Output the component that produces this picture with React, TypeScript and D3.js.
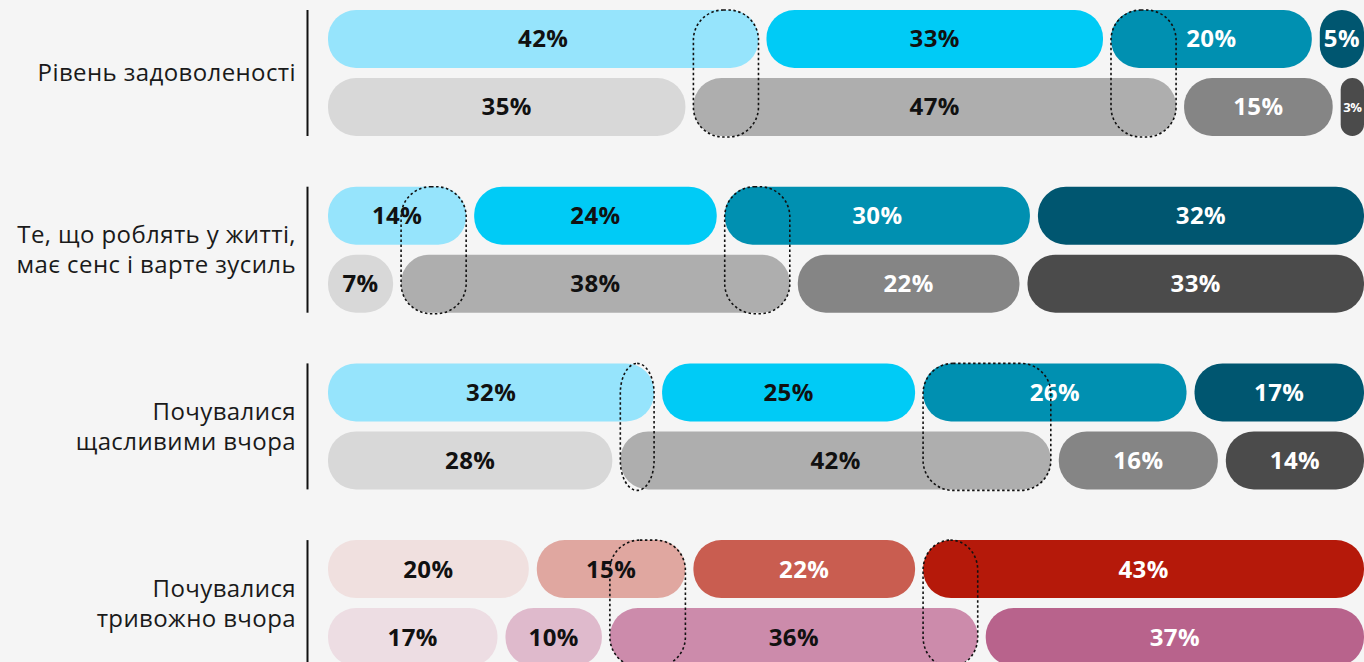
import React, { useEffect, useRef } from 'react';
import * as d3 from 'd3';

// categories (label lines per group)
const categories = [
  ['Рівень задоволеності'],
  ['Те, що роблять у житті,', 'має сенс і варте зусиль'],
  ['Почувалися', 'щасливими вчора'],
  ['Почувалися', 'тривожно вчора'],
];

// top row and bottom row shares (%) per group
const topRow = [
  [42, 33, 20, 5],
  [14, 24, 30, 32],
  [32, 25, 26, 17],
  [20, 15, 22, 43],
];
const bottomRow = [
  [35, 47, 15, 3],
  [7, 38, 22, 33],
  [28, 42, 16, 14],
  [17, 10, 36, 37],
];

// boundaries (between segment i-1 and i) that get a dotted highlight, per group
const highlighted = [
  [1, 2],
  [1, 2],
  [1, 2],
  [2, 3],
];

const blueColors = ['#96e4fc', '#00cbf6', '#0090b1', '#005670'];
const greyColors = ['#d8d8d8', '#aeaeae', '#858585', '#4b4b4b'];
const redColors = ['#f0e0df', '#e0a7a0', '#c95d50', '#b5190a'];
const pinkColors = ['#eddde3', '#dfbacc', '#cc8bab', '#b8638c'];
// label colour per segment position
const blueText = ['#111', '#111', '#fff', '#fff'];
const greyText = ['#111', '#111', '#fff', '#fff'];
const redText = ['#111', '#111', '#fff', '#fff'];
const pinkText = ['#111', '#111', '#111', '#fff'];

const WIDTH = 1364;
const HEIGHT = 662;
const BAR_H = 58;
const ROW_STEP = 68;
const GAP = 8;
const FONT = '"Open Sans", "Noto Sans", sans-serif';

const App = () => {
  const ref = useRef<SVGSVGElement>(null);

  useEffect(() => {
    const svg = d3.select(ref.current);
    svg.selectAll('*').remove();

    svg.append('rect').attr('width', WIDTH).attr('height', HEIGHT).attr('fill', '#f5f5f5');

    const x = d3.scaleLinear().domain([0, 100]).range([324, 1368]);
    const y = d3
      .scaleBand<number>()
      .domain(d3.range(categories.length))
      .range([10, 10 + 176.7 * categories.length])
      .paddingInner(0);

    categories.forEach((lines, g) => {
      const top = y(g) as number;
      const grp = svg.append('g');
      const last = g === categories.length - 1;

      // vertical divider
      grp
        .append('line')
        .attr('x1', 307.5)
        .attr('x2', 307.5)
        .attr('y1', top)
        .attr('y2', top + ROW_STEP + BAR_H)
        .attr('stroke', '#111')
        .attr('stroke-width', 2);

      // label
      const cy = top + (ROW_STEP + BAR_H) / 2;
      const lh = 30;
      lines.forEach((l, i) => {
        grp
          .append('text')
          .attr('x', 296)
          .attr('y', cy + (i - (lines.length - 1) / 2) * lh)
          .attr('dy', '0.35em')
          .attr('text-anchor', 'end')
          .attr('font-family', FONT)
          .attr('font-size', 24)
          .attr('letter-spacing', 0.4)
          .attr('fill', '#1a1a1a')
          .text(l);
      });

      const rows = [topRow[g], bottomRow[g]];
      const palettes = last ? [redColors, pinkColors] : [blueColors, greyColors];
      const textCols = last ? [redText, pinkText] : [blueText, greyText];

      rows.forEach((vals, r) => {
        const ry = top + r * ROW_STEP;
        let cum = 0;
        vals.forEach((v, i) => {
          const x0 = x(cum) + GAP / 2;
          const w = x(cum + v) - x(cum) - GAP;
          cum += v;
          const rad = Math.min(28, w / 2);
          grp
            .append('rect')
            .attr('x', x0)
            .attr('y', ry)
            .attr('width', w)
            .attr('height', BAR_H)
            .attr('rx', rad)
            .attr('ry', rad)
            .attr('fill', palettes[r][i]);

          const small = v < 4;
          grp
            .append('text')
            .attr('x', x0 + w / 2)
            .attr('y', ry + BAR_H / 2)
            .attr('dy', '0.35em')
            .attr('text-anchor', 'middle')
            .attr('font-family', FONT)
            .attr('font-weight', 700)
            .attr('font-size', small ? 13 : 24)
            .attr('letter-spacing', small ? -0.6 : 0.4)
            .attr('fill', textCols[r][i])
            .text(v + '%');
        });
      });

      // dotted highlight boxes around shifting boundaries
      highlighted[g].forEach((b) => {
        const c1 = d3.sum(topRow[g].slice(0, b));
        const c2 = d3.sum(bottomRow[g].slice(0, b));
        const xa = x(Math.min(c1, c2)) + GAP / 2;
        const xb = x(Math.max(c1, c2)) - GAP / 2;
        const bw = Math.max(xb - xa, 28);
        grp
          .append('rect')
          .attr('x', xa)
          .attr('y', top)
          .attr('width', bw)
          .attr('height', ROW_STEP + BAR_H + 1)
          .attr('rx', Math.min(30, bw / 2))
          .attr('ry', 30)
          .attr('fill', 'none')
          .attr('stroke', '#111')
          .attr('stroke-width', 1.6)
          .attr('stroke-dasharray', '2.5,2.5');
      });
    });
  }, []);

  return (
    <div style={{ position: 'absolute', left: 0, top: 0, background: '#f5f5f5' }}>
      <svg ref={ref} width={WIDTH} height={HEIGHT} style={{ display: 'block' }} />
    </div>
  );
};

export default App;
